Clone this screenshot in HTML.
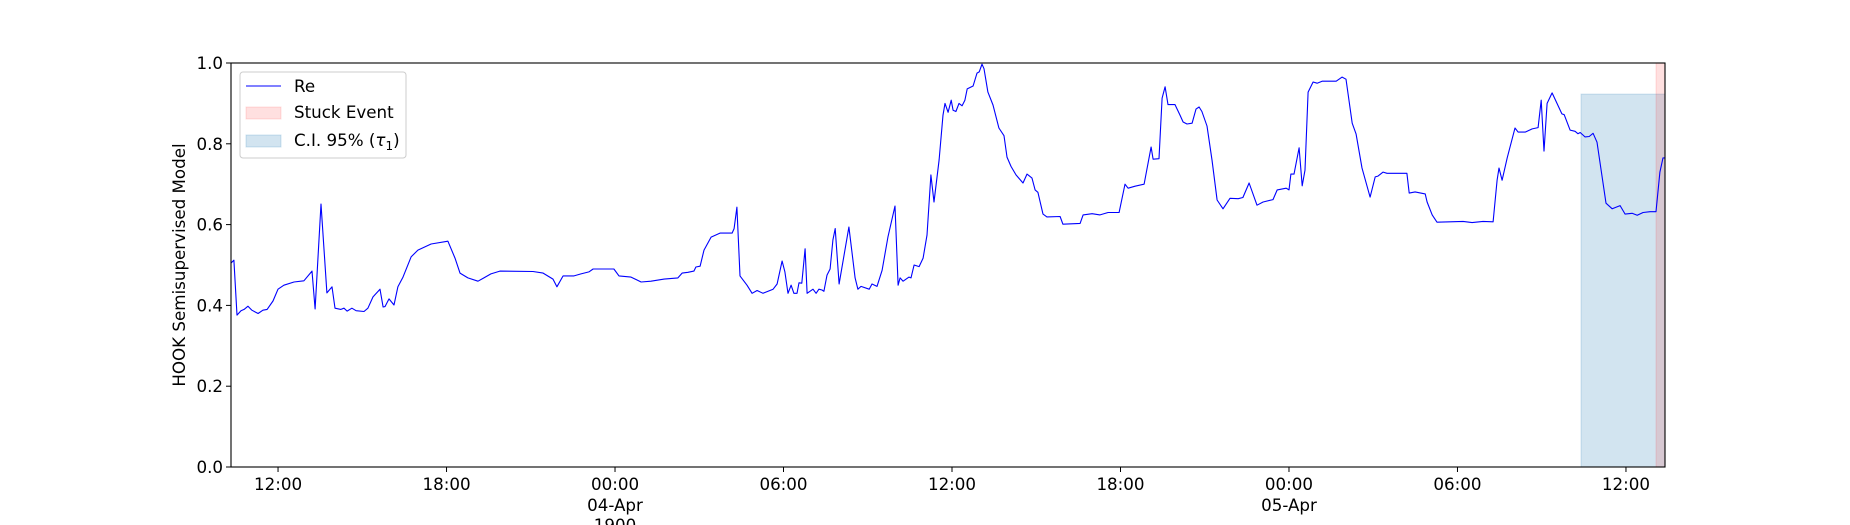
<!DOCTYPE html>
<html><head><meta charset="utf-8">
<style>
html,body{margin:0;padding:0;background:#fff;}
svg{display:block;font-family:"DejaVu Sans","Liberation Sans",sans-serif;}
</style></head>
<body>
<svg id="chart" width="1850" height="525" viewBox="0 0 1850 525" xmlns="http://www.w3.org/2000/svg">
<g id="bands"></g>
<g id="series"></g>
<g id="axes"></g>
<g id="legend"></g>
</svg>
<script>
// hours relative to 04-Apr 00:00
const reHours = [-13.67,-13.57,-13.46,-13.32,-13.21,-13.07,-12.93,-12.71,-12.54,-12.39,-12.18,-12.0,-11.79,-11.43,-11.08,-10.79,-10.68,-10.47,-10.26,-10.08,-9.97,-9.76,-9.65,-9.54,-9.37,-9.22,-8.94,-8.8,-8.62,-8.37,-8.26,-8.19,-8.05,-7.87,-7.73,-7.55,-7.26,-7.02,-6.55,-5.95,-5.7,-5.52,-5.24,-4.88,-4.67,-4.42,-4.1,-2.92,-2.56,-2.21,-2.07,-1.85,-1.46,-1.21,-0.93,-0.78,-0.04,0.14,0.57,0.93,1.28,1.75,2.24,2.39,2.6,2.81,2.88,3.03,3.17,3.42,3.74,4.17,4.24,4.34,4.45,4.7,4.88,5.06,5.27,5.63,5.77,5.95,6.05,6.16,6.27,6.37,6.48,6.55,6.65,6.77,6.84,7.05,7.16,7.26,7.37,7.44,7.55,7.66,7.76,7.84,7.98,8.33,8.55,8.65,8.76,9.05,9.15,9.33,9.51,9.72,9.97,10.08,10.15,10.26,10.47,10.54,10.65,10.83,10.97,11.11,11.25,11.36,11.54,11.68,11.75,11.86,11.97,12.04,12.14,12.25,12.36,12.46,12.54,12.75,12.89,12.97,13.07,13.14,13.28,13.46,13.67,13.85,13.96,14.1,14.28,14.53,14.67,14.85,14.96,15.06,15.24,15.38,15.85,15.95,16.56,16.67,16.99,17.27,17.56,17.95,18.16,18.27,18.52,18.84,19.09,19.16,19.37,19.48,19.59,19.69,19.94,20.12,20.23,20.37,20.55,20.69,20.8,20.9,21.08,21.26,21.44,21.65,21.9,22.19,22.36,22.58,22.86,23.08,23.43,23.58,23.9,24.0,24.07,24.18,24.36,24.47,24.57,24.68,24.86,25.0,25.18,25.68,25.89,26.03,26.25,26.39,26.6,26.89,27.07,27.17,27.35,27.49,28.2,28.28,28.49,28.85,28.92,29.1,29.27,30.2,30.52,30.91,31.27,31.41,31.48,31.59,31.77,32.05,32.16,32.41,32.66,32.87,32.98,33.08,33.19,33.37,33.72,33.8,34.01,34.19,34.29,34.37,34.54,34.69,34.83,34.97,35.29,35.51,35.79,35.97,36.22,36.4,36.61,36.86,37.07,37.21,37.32,37.39];
const reValues = [0.505,0.512,0.376,0.387,0.39,0.398,0.388,0.38,0.388,0.39,0.411,0.44,0.45,0.458,0.461,0.485,0.391,0.651,0.431,0.446,0.393,0.39,0.393,0.386,0.393,0.387,0.385,0.393,0.421,0.44,0.396,0.397,0.416,0.401,0.446,0.47,0.52,0.537,0.552,0.559,0.517,0.48,0.468,0.46,0.468,0.478,0.485,0.484,0.48,0.465,0.446,0.473,0.473,0.478,0.483,0.49,0.49,0.473,0.47,0.458,0.46,0.465,0.468,0.48,0.482,0.485,0.495,0.497,0.537,0.569,0.579,0.579,0.59,0.643,0.473,0.45,0.43,0.437,0.43,0.44,0.453,0.51,0.483,0.43,0.45,0.43,0.43,0.456,0.455,0.54,0.43,0.44,0.43,0.44,0.438,0.435,0.475,0.49,0.562,0.59,0.453,0.594,0.468,0.44,0.447,0.44,0.453,0.447,0.487,0.57,0.646,0.45,0.468,0.46,0.47,0.468,0.5,0.496,0.517,0.574,0.723,0.656,0.76,0.871,0.9,0.878,0.908,0.883,0.88,0.9,0.894,0.908,0.936,0.943,0.975,0.978,0.997,0.986,0.928,0.896,0.839,0.82,0.767,0.744,0.723,0.703,0.725,0.715,0.686,0.68,0.626,0.619,0.62,0.601,0.603,0.624,0.627,0.624,0.63,0.63,0.7,0.69,0.695,0.7,0.792,0.762,0.763,0.913,0.941,0.897,0.897,0.871,0.854,0.849,0.851,0.886,0.891,0.88,0.844,0.76,0.661,0.639,0.665,0.664,0.667,0.703,0.648,0.656,0.662,0.686,0.69,0.686,0.725,0.725,0.79,0.696,0.735,0.928,0.953,0.95,0.955,0.955,0.965,0.96,0.851,0.824,0.74,0.668,0.718,0.72,0.73,0.727,0.727,0.678,0.681,0.676,0.656,0.624,0.606,0.608,0.605,0.608,0.607,0.71,0.74,0.71,0.765,0.839,0.829,0.829,0.837,0.84,0.908,0.782,0.9,0.926,0.874,0.872,0.834,0.831,0.825,0.828,0.817,0.818,0.826,0.804,0.653,0.639,0.647,0.626,0.628,0.623,0.63,0.632,0.632,0.73,0.765,0.765];
const ciBand = [34.4, 37.39, 0.923];   // start hour, end hour, upper value
const stuckBand = [37.07, 37.39];      // start hour, end hour
const xTickHours = [-12,-6,0,6,12,18,24,30,36];
const xTickLabels = ["12:00","18:00","00:00","06:00","12:00","18:00","00:00","06:00","12:00"];
const xTickSub = ["","","04-Apr\n1900","","","","05-Apr","",""];
const yTicks = [0,0.2,0.4,0.6,0.8,1.0];
const yTickLabels = ["0.0","0.2","0.4","0.6","0.8","1.0"];

const L=231,R=1665,T=63,B=467, XMIN=-13.675, XMAX=37.39;
const sx=h=>L+(h-XMIN)/(XMAX-XMIN)*(R-L);
const sy=v=>B-v*(B-T);
const NS="http://www.w3.org/2000/svg";
function mk(tag,attrs,parent){const e=document.createElementNS(NS,tag);for(const k in attrs)e.setAttribute(k,attrs[k]);parent.appendChild(e);return e;}
const bands=document.getElementById('bands'),series=document.getElementById('series'),axes=document.getElementById('axes'),legend=document.getElementById('legend');

let ci=mk('rect',{x:sx(ciBand[0]),y:sy(ciBand[2]),width:sx(ciBand[1])-sx(ciBand[0]),height:sy(0)-sy(ciBand[2]),fill:'#1f77b4','fill-opacity':0.2,stroke:'#1f77b4','stroke-opacity':0.2},bands);


let st=mk('rect',{x:sx(stuckBand[0]),y:T,width:sx(stuckBand[1])-sx(stuckBand[0]),height:B-T,fill:'#ff0000','fill-opacity':0.12,stroke:'#ff0000','stroke-opacity':0.12},bands);



let d=reHours.map((h,i)=>(i?'L':'M')+sx(h).toFixed(1)+','+sy(reValues[i]).toFixed(1)).join('');
let ln=mk('path',{d:d,fill:'none',stroke:'#0000ff','stroke-width':1.1,'stroke-linejoin':'round'},series);



let fr=mk('rect',{x:L,y:T,width:R-L,height:B-T,fill:'none',stroke:'#000','stroke-width':1.1},axes);



xTickHours.forEach((h,i)=>{
  const x=sx(h);
  mk('line',{x1:x,y1:B,x2:x,y2:B+5,stroke:'#000','stroke-width':1},axes);
  let t=mk('text',{x:x,y:B+23,'text-anchor':'middle','font-size':16.7,fill:'#000'},axes);
  t.textContent=xTickLabels[i];
  
  
  if(xTickSub[i]){xTickSub[i].split('\n').forEach((s,j)=>{
    let u=mk('text',{x:x,y:B+44+j*20,'text-anchor':'middle','font-size':16.7,fill:'#000'},axes);
    u.textContent=s;
    
    
  });}
});
yTicks.forEach((v,i)=>{
  const y=sy(v);
  mk('line',{x1:L-5,y1:y,x2:L,y2:y,stroke:'#000','stroke-width':1},axes);
  let t=mk('text',{x:L-8,y:y+6,'text-anchor':'end','font-size':16.7,fill:'#000'},axes);
  t.textContent=yTickLabels[i];
  
  
});
let yl=mk('text',{x:0,y:0,transform:'translate(185,265) rotate(-90)','text-anchor':'middle','font-size':16.7,fill:'#000'},axes);
yl.textContent='HOOK Semisupervised Model';



let lb=mk('rect',{x:240,y:72,width:166,height:86,rx:3,fill:'#fff','fill-opacity':0.8,stroke:'#ccc','stroke-width':1},legend);


mk('line',{x1:246,y1:86,x2:281,y2:86,stroke:'#0000ff','stroke-width':1.1},legend);
mk('rect',{x:246,y:107,width:35,height:12,fill:'#ff0000','fill-opacity':0.12,stroke:'#ff0000','stroke-opacity':0.12},legend);
mk('rect',{x:246,y:135,width:35,height:12,fill:'#1f77b4','fill-opacity':0.2,stroke:'#1f77b4','stroke-opacity':0.2},legend);
[['Re',92,'legend-entry-re'],['Stuck Event',118,'legend-entry-stuck-event']].forEach(a=>{
  let t=mk('text',{x:294,y:a[1],'font-size':16.7,fill:'#000'},legend);
  t.textContent=a[0];
  
  
});
let ct=mk('text',{x:294,y:146,'font-size':16.7,fill:'#000'},legend);
ct.innerHTML='C.I. 95% (<tspan font-style="italic">τ</tspan><tspan font-size="12" dy="4">1</tspan><tspan dy="-4">)</tspan>';


</script>
</body></html>
